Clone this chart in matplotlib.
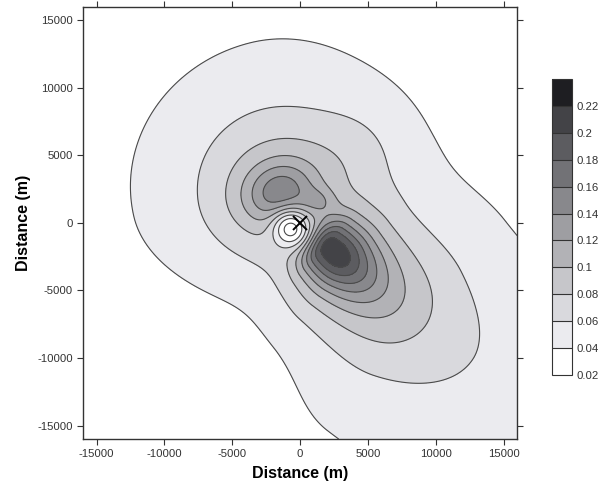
import matplotlib

matplotlib.use("Agg")
import matplotlib.pyplot as plt
import numpy as np
from matplotlib.cm import ScalarMappable
from matplotlib.colors import BoundaryNorm, ListedColormap

plt.rcParams["font.family"] = ["Liberation Sans", "DejaVu Sans"]
plt.rcParams["axes.unicode_minus"] = False

# Concentration field built from plume lobes: centre, peak, spreads
# (forward / backward along the heading, either side across it) and heading
BACKGROUND = 0.03
LOBE_X = [-1000, -1500, -1500, 9000, 3500, 2000, 1400, 4500]
LOBE_Y = [3500, 2300, 2300, -7000, -3200, -1700, 1600, 5500]
LOBE_AMP = [0.0206, 0.045, 0.06, 0.028, 0.06, 0.11, 0.025, 0.012]
LOBE_FWD = [5500, 4000, 1800, 12000, 5000, 2800, 900, 2500]
LOBE_BACK = [8000, 4000, 1800, 4700, 2200, 1000, 900, 2500]
LOBE_SIDE_POS = [7600, 4000, 1500, 6100, 3300, 1600, 700, 2500]
LOBE_SIDE_NEG = [9000, 4000, 1500, 7500, 3300, 1600, 700, 2500]
LOBE_ANGLE = [-75, 0, 20, -40, -42, -42, 0, 0]

# Depression next to the stack
DIP_X, DIP_Y = -700, -450
DIP_DEPTH = 0.9
DIP_SIGMA = 950

SOURCE_X, SOURCE_Y = 0, 0

LEVELS = [0.02, 0.04, 0.06, 0.08, 0.10, 0.12, 0.14, 0.16, 0.18, 0.20, 0.22, 0.24]
CBAR_LABELS = ["0.02", "0.04", "0.06", "0.08", "0.1", "0.12", "0.14",
               "0.16", "0.18", "0.2", "0.22"]
FILL_COLORS = ["#ffffff", "#ebebef", "#d9d9dd", "#c6c6ca", "#b2b2b6", "#9e9ea2",
               "#88888c", "#727276", "#5c5c60", "#434347", "#1e1e22"]
TICKS = [-15000, -10000, -5000, 0, 5000, 10000, 15000]


def field(X, Y):
    z = np.full_like(X, BACKGROUND)
    lobes = zip(LOBE_X, LOBE_Y, LOBE_AMP, LOBE_FWD, LOBE_BACK,
                LOBE_SIDE_POS, LOBE_SIDE_NEG, LOBE_ANGLE)
    for x0, y0, amp, fwd, back, s_pos, s_neg, ang in lobes:
        th = np.deg2rad(ang)
        dx, dy = X - x0, Y - y0
        u = dx * np.cos(th) + dy * np.sin(th)
        v = -dx * np.sin(th) + dy * np.cos(th)
        su = np.where(u >= 0, fwd, back)
        sv = np.where(v >= 0, s_pos, s_neg)
        z += amp * np.exp(-0.5 * ((u / su) ** 2 + (v / sv) ** 2))
    r2 = (X - DIP_X) ** 2 + (Y - DIP_Y) ** 2
    return z * (1 - DIP_DEPTH * np.exp(-0.5 * r2 / DIP_SIGMA**2))


g = np.linspace(-16000, 16000, 401)
X, Y = np.meshgrid(g, g)
Z = field(X, Y)

fig = plt.figure(figsize=(6.02, 4.93), dpi=100)
ax = fig.add_axes([0.138, 0.1095, 0.721, 0.8765])

fill_levels = [-1.0] + LEVELS + [1.0]
fill_colors = ["#ffffff"] + FILL_COLORS + [FILL_COLORS[-1]]
ax.contourf(X, Y, Z, levels=fill_levels, colors=fill_colors)
ax.contour(X, Y, Z, levels=LEVELS, colors="#4a4a4a", linewidths=0.8)
ax.plot(SOURCE_X, SOURCE_Y, marker="x", color="black", ms=10, mew=1.4)

ax.set_xlim(-16000, 16000)
ax.set_ylim(-16000, 16000)
ax.set_xticks(TICKS)
ax.set_yticks(TICKS)
ax.tick_params(direction="out", length=4, width=0.8, labelsize=8.2, colors="#333333",
               top=True, right=True, labeltop=False, labelright=False)
for sp in ax.spines.values():
    sp.set_linewidth(1.0)
    sp.set_color("#333333")
ax.set_xlabel("Distance (m)", fontsize=11.5, fontweight="bold", labelpad=5)
ax.set_ylabel("Distance (m)", fontsize=11.5, fontweight="bold", labelpad=4)

# Legend bar
cax = fig.add_axes([0.917, 0.2394, 0.033, 0.6004])
sm = ScalarMappable(norm=BoundaryNorm(LEVELS, len(FILL_COLORS)), cmap=ListedColormap(FILL_COLORS))
cb = fig.colorbar(sm, cax=cax, drawedges=True)
cb.minorticks_off()
cb.set_ticks(LEVELS[:-1])
cb.set_ticklabels(CBAR_LABELS)
cb.ax.tick_params(length=0, labelsize=8.2, pad=3, colors="#333333")
cb.outline.set_linewidth(0.8)
cb.outline.set_edgecolor("#333333")
cb.dividers.set_color("#333333")
cb.dividers.set_linewidth(0.8)

fig.savefig("out.png", dpi=100)
